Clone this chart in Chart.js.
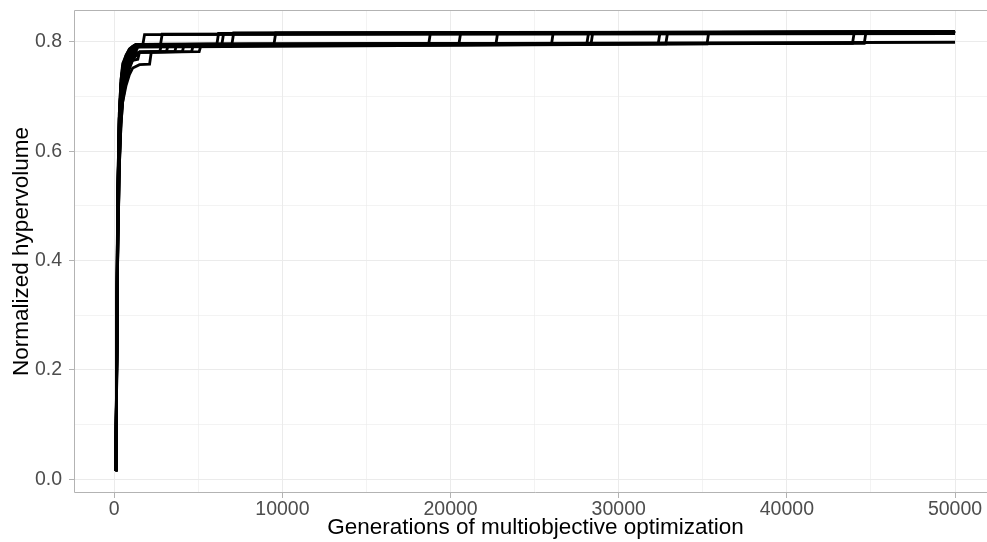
<!DOCTYPE html>
<html>
<head>
<meta charset="utf-8">
<title>Normalized hypervolume</title>
<script src="https://cdn.jsdelivr.net/npm/chart.js@4.4.1/dist/chart.umd.min.js"></script>
<style>
  html, body { margin: 0; padding: 0; background: #fff; overflow: hidden; }
  #wrap { width: 1000px; height: 542px; position: relative; }
</style>
</head>
<body>
<div id="wrap"><canvas id="chart"></canvas></div>
<script>
// Tick positions (major + minor)
const xTicks = [0, 5000, 10000, 15000, 20000, 25000, 30000, 35000, 40000, 45000, 50000];
const yTicks = [0, 0.1, 0.2, 0.3, 0.4, 0.5, 0.6, 0.7, 0.8];

// One pair of arrays per run: generation, normalized hypervolume
const gen01 = [100, 200, 300, 400, 500, 700, 900, 1100, 1700, 1800, 50000];
const hv01  = [0.015, 0.50, 0.66, 0.72, 0.75, 0.77, 0.785, 0.790, 0.795, 0.813, 0.815];
const gen02 = [100, 200, 300, 400, 500, 700, 900, 1100, 1300, 2750, 2850, 50000];
const hv02  = [0.015, 0.45, 0.62, 0.69, 0.72, 0.75, 0.770, 0.780, 0.790, 0.795, 0.814, 0.816];
const gen03 = [100, 200, 300, 400, 500, 700, 900, 1100, 1500, 2700, 2800, 6100, 6200, 50000];
const hv03  = [0.015, 0.40, 0.57, 0.65, 0.69, 0.73, 0.750, 0.768, 0.781, 0.782, 0.793, 0.795, 0.815, 0.818];
const gen04 = [100, 200, 300, 400, 500, 700, 900, 1100, 1500, 3100, 3200, 6400, 6500, 50000];
const hv04  = [0.015, 0.45, 0.62, 0.69, 0.72, 0.75, 0.768, 0.776, 0.781, 0.782, 0.793, 0.795, 0.815, 0.817];
const gen05 = [100, 200, 300, 400, 500, 700, 900, 1100, 1300, 7000, 7100, 50000];
const hv05  = [0.015, 0.50, 0.66, 0.72, 0.75, 0.77, 0.785, 0.790, 0.794, 0.796, 0.816, 0.818];
const gen06 = [100, 200, 300, 400, 500, 700, 900, 1100, 1500, 2100, 2200, 3600, 3700, 9500, 9600, 50000];
const hv06  = [0.015, 0.40, 0.57, 0.65, 0.69, 0.72, 0.740, 0.752, 0.758, 0.759, 0.781, 0.782, 0.794, 0.796, 0.816, 0.818];
const gen07 = [100, 200, 300, 400, 500, 700, 900, 1100, 1500, 4050, 4150, 18700, 18800, 50000];
const hv07  = [0.015, 0.45, 0.62, 0.69, 0.72, 0.75, 0.765, 0.774, 0.781, 0.782, 0.794, 0.796, 0.816, 0.818];
const gen08 = [100, 200, 300, 400, 500, 700, 900, 1100, 1300, 20500, 20600, 50000];
const hv08  = [0.015, 0.52, 0.67, 0.73, 0.76, 0.775, 0.786, 0.791, 0.795, 0.797, 0.816, 0.818];
const gen09 = [100, 200, 300, 400, 500, 700, 900, 1100, 1500, 4600, 4700, 22700, 22800, 50000];
const hv09  = [0.015, 0.44, 0.61, 0.68, 0.72, 0.75, 0.765, 0.774, 0.781, 0.782, 0.794, 0.796, 0.817, 0.818];
const gen10 = [100, 200, 300, 400, 500, 700, 900, 1100, 1400, 1500, 5050, 5150, 26000, 26100, 50000];
const hv10  = [0.015, 0.40, 0.58, 0.66, 0.70, 0.735, 0.755, 0.766, 0.768, 0.781, 0.782, 0.793, 0.795, 0.816, 0.818];
const gen11 = [100, 200, 300, 400, 500, 700, 900, 1100, 1300, 28100, 28200, 50000];
const hv11  = [0.015, 0.50, 0.66, 0.72, 0.75, 0.77, 0.783, 0.789, 0.794, 0.796, 0.815, 0.817];
const gen12 = [100, 200, 300, 400, 500, 700, 900, 1100, 1300, 28350, 28450, 50000];
const hv12  = [0.015, 0.46, 0.63, 0.70, 0.73, 0.755, 0.772, 0.782, 0.792, 0.795, 0.816, 0.818];
const gen13 = [100, 200, 300, 400, 500, 700, 900, 1100, 1300, 32350, 32450, 50000];
const hv13  = [0.015, 0.52, 0.67, 0.73, 0.755, 0.775, 0.787, 0.792, 0.795, 0.797, 0.816, 0.818];
const gen14 = [100, 200, 300, 400, 500, 700, 900, 1100, 1300, 32800, 32900, 50000];
const hv14  = [0.015, 0.46, 0.63, 0.70, 0.73, 0.755, 0.772, 0.783, 0.794, 0.796, 0.816, 0.818];
const gen15 = [100, 200, 300, 400, 500, 700, 900, 1100, 1400, 35250, 35350, 50000];
const hv15  = [0.015, 0.41, 0.58, 0.66, 0.70, 0.735, 0.755, 0.770, 0.790, 0.796, 0.817, 0.818];
const gen16 = [100, 200, 300, 400, 500, 700, 900, 1100, 1300, 43900, 44000, 50000];
const hv16  = [0.015, 0.50, 0.66, 0.72, 0.75, 0.77, 0.785, 0.791, 0.795, 0.797, 0.816, 0.818];
const gen17 = [100, 200, 300, 400, 500, 700, 900, 1100, 1300, 44600, 44700, 50000];
const hv17  = [0.015, 0.47, 0.64, 0.70, 0.73, 0.757, 0.774, 0.784, 0.794, 0.797, 0.817, 0.818];
const gen18 = [100, 200, 300, 400, 500, 700, 900, 1100, 1300, 50000];
const hv18  = [0.015, 0.48, 0.65, 0.71, 0.74, 0.765, 0.780, 0.788, 0.795, 0.799];

const runs = [
    [gen01, hv01], [gen02, hv02], [gen03, hv03], [gen04, hv04], [gen05, hv05], [gen06, hv06],
    [gen07, hv07], [gen08, hv08], [gen09, hv09], [gen10, hv10], [gen11, hv11], [gen12, hv12],
    [gen13, hv13], [gen14, hv14], [gen15, hv15], [gen16, hv16], [gen17, hv17], [gen18, hv18]
];

const FONT = "'Liberation Sans', Arial, sans-serif";
const GRID = '#ebebeb';
const BORDER = '#b3b3b3';

// panel border: top, left, bottom (the right side falls outside the picture)
const panelBorder = {
    id: 'panelBorder',
    afterDatasetsDraw(chart) {
        const { ctx, chartArea: a } = chart;
        ctx.save();
        ctx.strokeStyle = BORDER;
        ctx.lineWidth = 1;
        ctx.beginPath();
        ctx.moveTo(a.right, a.top + 0.5);
        ctx.lineTo(a.left + 0.5, a.top + 0.5);
        ctx.lineTo(a.left + 0.5, a.bottom - 0.5);
        ctx.lineTo(a.right, a.bottom - 0.5);
        ctx.stroke();
        ctx.restore();
    }
};

const datasets = runs.map(([g, h], i) => ({
    label: 'run ' + (i + 1),
    data: g.map((x, j) => ({ x: x, y: h[j] })),
    borderColor: '#000',
    borderWidth: 2.8,
    pointRadius: 0,
    tension: 0,
    fill: false
}));

new Chart(document.getElementById('chart'), {
    type: 'line',
    data: { datasets },
    plugins: [panelBorder],
    options: {
        responsive: true,
        maintainAspectRatio: false,
        animation: false,
        layout: { padding: { top: 10, right: 3, left: 0, bottom: 0 } },
        plugins: { legend: { display: false }, tooltip: { enabled: false } },
        scales: {
            x: {
                type: 'linear',
                min: -2395,
                max: 52495,
                afterBuildTicks: axis => { axis.ticks = xTicks.map(v => ({ value: v })); },
                afterFit: axis => { axis.height = 49; axis.paddingLeft = 0; axis.paddingRight = 0; },
                grid: {
                    color: GRID,
                    lineWidth: c => (c.tick && c.tick.value % 10000 === 0 ? 1 : 0.6),
                    tickColor: c => (c.tick && c.tick.value % 10000 === 0 ? BORDER : 'rgba(0,0,0,0)'),
                    tickLength: 5
                },
                border: { display: false },
                ticks: {
                    autoSkip: false,
                    maxRotation: 0,
                    padding: 0,
                    color: '#4d4d4d',
                    font: { family: FONT, size: 19.5 },
                    callback: v => (v % 10000 === 0 ? String(v) : '')
                },
                title: {
                    display: true,
                    text: 'Generations of multiobjective optimization',
                    color: '#000',
                    font: { family: FONT, size: 22.5 },
                    padding: { top: 0, bottom: 0.5 }
                }
            },
            y: {
                type: 'linear',
                min: -0.025,
                max: 0.858,
                afterBuildTicks: axis => { axis.ticks = yTicks.map(v => ({ value: v })); },
                afterFit: axis => { axis.width = 74; axis.paddingTop = 0; axis.paddingBottom = 0; },
                grid: {
                    color: GRID,
                    lineWidth: c => (c.tick && Math.round(c.tick.value * 10) % 2 === 0 ? 1 : 0.6),
                    tickColor: c => (c.tick && Math.round(c.tick.value * 10) % 2 === 0 ? BORDER : 'rgba(0,0,0,0)'),
                    tickLength: 5
                },
                border: { display: false },
                ticks: {
                    autoSkip: false,
                    padding: 7,
                    color: '#4d4d4d',
                    font: { family: FONT, size: 19.5 },
                    callback: v => (Math.round(v * 10) % 2 === 0 ? v.toFixed(1) : '')
                },
                title: {
                    display: true,
                    text: 'Normalized hypervolume',
                    color: '#000',
                    font: { family: FONT, size: 22.5 },
                    padding: { top: 8.5, bottom: 0 }
                }
            }
        }
    }
});
</script>
</body>
</html>
